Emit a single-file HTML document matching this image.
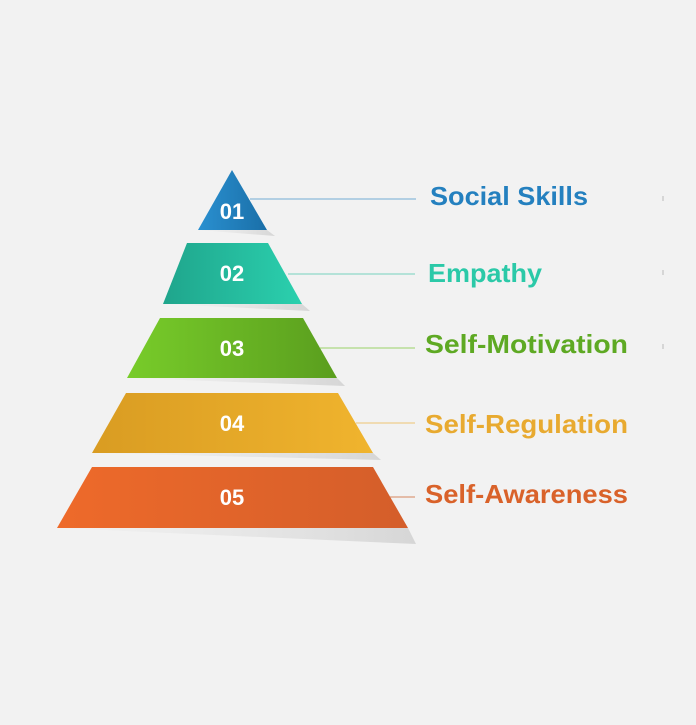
<!DOCTYPE html>
<html><head><meta charset="utf-8"><style>html,body{margin:0;padding:0;background:#f2f2f2;}</style></head>
<body>
<svg width="696" height="720" viewBox="0 0 696 720" xmlns="http://www.w3.org/2000/svg">
<defs>
<linearGradient id="g1" x1="0" x2="1"><stop offset="0" stop-color="#2a90d0"/><stop offset="1" stop-color="#1a6fa8"/></linearGradient>
<linearGradient id="g2" x1="0" x2="1"><stop offset="0" stop-color="#1fa58c"/><stop offset="1" stop-color="#2bd0ae"/></linearGradient>
<linearGradient id="g3" x1="0" x2="1"><stop offset="0" stop-color="#78cc2a"/><stop offset="1" stop-color="#5a9e1e"/></linearGradient>
<linearGradient id="g4" x1="0" x2="1"><stop offset="0" stop-color="#d99c22"/><stop offset="1" stop-color="#f0b42e"/></linearGradient>
<linearGradient id="g5" x1="0" x2="1"><stop offset="0" stop-color="#ee6a2a"/><stop offset="1" stop-color="#d45e2a"/></linearGradient>
<linearGradient id="sh" x1="0" x2="1"><stop offset="0" stop-color="#e6e6e6" stop-opacity="0.1"/><stop offset="1" stop-color="#d6d6d6"/></linearGradient>
</defs>
<polygon points="198,230 267,230 275,236" fill="url(#sh)"/>
<polygon points="163,304 302,304 310,311" fill="url(#sh)"/>
<polygon points="127,378 337,378 345,386" fill="url(#sh)"/>
<polygon points="92,453 373,453 381,460" fill="url(#sh)"/>
<polygon points="57,528 408,528 416,544" fill="url(#sh)"/>
<g stroke-width="1.5">
<line x1="250" y1="199" x2="416" y2="199" stroke="#9cc3de"/>
<line x1="288" y1="274" x2="415" y2="274" stroke="#9fdccf"/>
<line x1="320" y1="348" x2="415" y2="348" stroke="#b8dc96"/>
<line x1="356" y1="423" x2="415" y2="423" stroke="#f0d39c"/>
<line x1="390" y1="497" x2="415" y2="497" stroke="#e0aa90"/>
</g>
<polygon points="232,170 267,230 198,230" fill="url(#g1)"/>
<polygon points="187,243 268,243 302,304 163,304" fill="url(#g2)"/>
<polygon points="160,318 303,318 337,378 127,378" fill="url(#g3)"/>
<polygon points="126,393 338,393 373,453 92,453" fill="url(#g4)"/>
<polygon points="92,467 373,467 408,528 57,528" fill="url(#g5)"/>
<g font-family="Liberation Sans, sans-serif" font-weight="bold" fill="#fff" font-size="22" text-anchor="middle">
<text x="232" y="219">01</text>
<text x="232" y="281">02</text>
<text x="232" y="356">03</text>
<text x="232" y="431">04</text>
<text x="232" y="505">05</text>
</g>
<g font-family="Liberation Sans, sans-serif" font-weight="bold" font-size="26">
<text x="430" y="205" fill="#2480bf" textLength="158" lengthAdjust="spacingAndGlyphs">Social Skills</text>
<text x="428" y="282" fill="#2bc9a8" textLength="114" lengthAdjust="spacingAndGlyphs">Empathy</text>
<text x="425" y="353" fill="#5ea923" textLength="203" lengthAdjust="spacingAndGlyphs">Self-Motivation</text>
<text x="425" y="433" fill="#e8aa30" textLength="203" lengthAdjust="spacingAndGlyphs">Self-Regulation</text>
<text x="425" y="503" fill="#d9622a" textLength="203" lengthAdjust="spacingAndGlyphs">Self-Awareness</text>
</g>
<g stroke="#bbb" stroke-width="1">
<line x1="663" y1="196" x2="663" y2="201"/>
<line x1="663" y1="270" x2="663" y2="275"/>
<line x1="663" y1="344" x2="663" y2="349"/>
</g>
</svg>
</body></html>
